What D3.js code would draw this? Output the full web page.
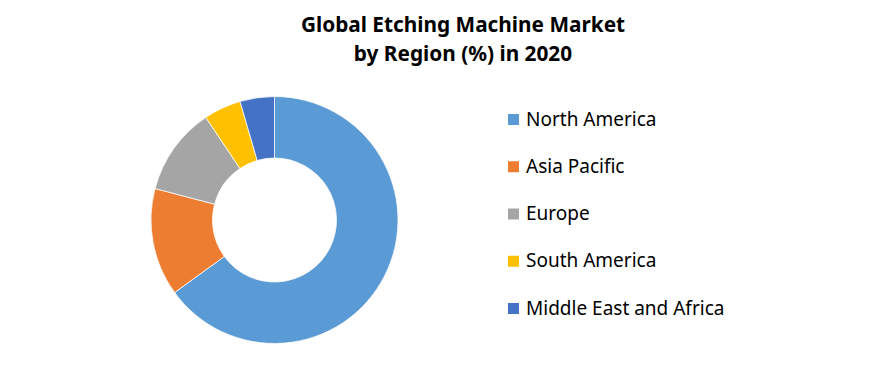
<!DOCTYPE html>
<html>
<head>
    <title>Global Etching Machine Market</title>
    <style>
      body { margin: 0; background: #fff; }
      text { font-family: "Noto Sans", "Open Sans", sans-serif; }
    </style>
</head>
<body>
    <script src="https://d3js.org/d3.v7.min.js"></script>
    <script type="text/javascript">
        // Data
        var regions = ["North America", "Asia Pacific", "Europe", "South America", "Middle East and Africa"];
        var shares = [65.0, 14.1, 11.5, 4.9, 4.5];
        var colors = ["#5B9BD5", "#ED7D31", "#A5A5A5", "#FFC000", "#4472C4"];
        var titleLines = ["Global Etching Machine Market", "by Region (%) in 2020"];

        var width = 888, height = 384;
        var cx = 274.5, cy = 220, outerR = 123.5, innerR = 62;

        var svg = d3.select("body")
            .append("svg")
            .attr("width", width)
            .attr("height", height);

        // Title
        svg.selectAll("text.title")
            .data(titleLines)
            .enter()
            .append("text")
            .attr("class", "title")
            .attr("x", 463)
            .attr("y", function(d, i) { return 32 + i * 29; })
            .attr("text-anchor", "middle")
            .attr("font-size", "20.8px")
            .attr("font-weight", "bold")
            .attr("fill", "#000")
            .text(function(d) { return d; });

        // Donut
        var pie = d3.pie().sort(null).value(function(d) { return d; });
        var arc = d3.arc().innerRadius(innerR).outerRadius(outerR);
        var color = d3.scaleOrdinal().domain(regions).range(colors);

        svg.append("g")
            .attr("transform", "translate(" + cx + "," + cy + ")")
            .selectAll("path")
            .data(pie(shares))
            .enter()
            .append("path")
            .attr("d", arc)
            .attr("fill", function(d, i) { return color(regions[i]); })
            .attr("stroke", "#fff")
            .attr("stroke-width", 0.75);

        // Legend
        var legendY = d3.scalePoint().domain(regions).range([119, 308]);

        var legend = svg.append("g")
            .selectAll("g")
            .data(regions)
            .enter()
            .append("g")
            .attr("transform", function(d) { return "translate(508," + legendY(d) + ")"; });

        legend.append("rect")
            .attr("x", 0)
            .attr("y", -5)
            .attr("width", 11)
            .attr("height", 11)
            .attr("fill", function(d) { return color(d); });

        legend.append("text")
            .attr("x", 18)
            .attr("y", 0)
            .attr("dy", "0.35em")
            .attr("font-size", "19px")
            .attr("fill", "#000")
            .text(function(d) { return d; });
    </script>
</body>
</html>
